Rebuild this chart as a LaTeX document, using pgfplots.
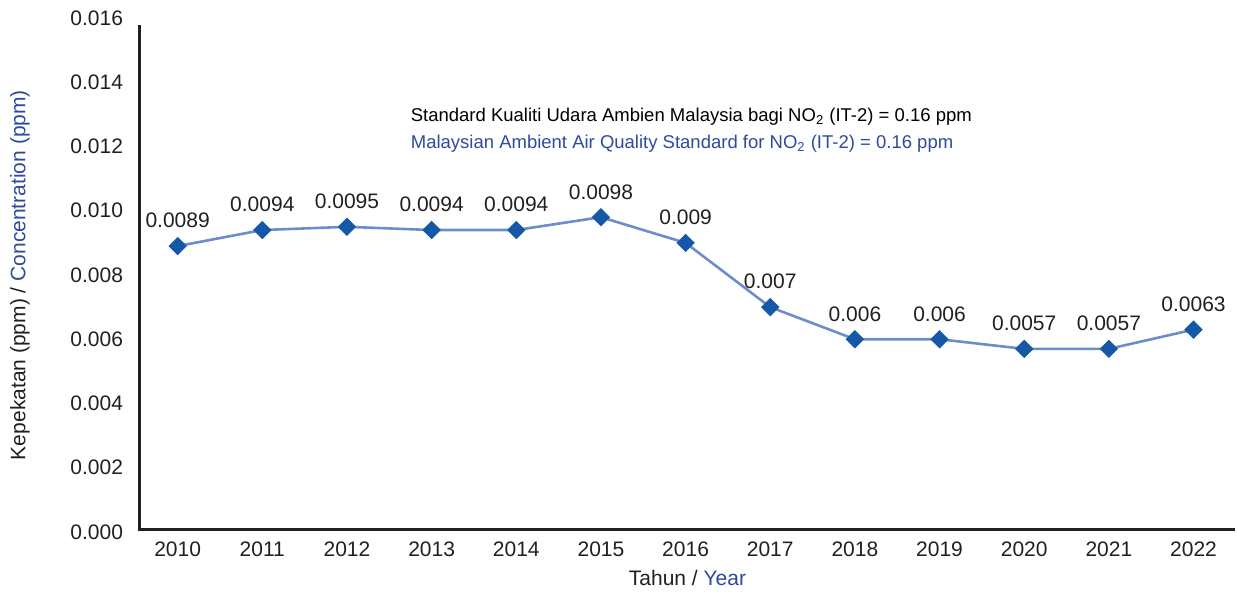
\documentclass[border=0pt]{standalone}
\usepackage{fontspec}
\setmainfont{Liberation Sans}
\usepackage{pgfplots}
\pgfplotsset{compat=1.18}
\definecolor{axisgray}{HTML}{231F20}
\definecolor{txtblue}{HTML}{2E4A9E}
\definecolor{lineblue}{HTML}{6E8CCB}
\definecolor{markblue}{HTML}{1558A8}
\newcommand{\fs}{\fontsize{10.5bp}{12.6bp}\selectfont}
\begin{document}
\begin{tikzpicture}
\begin{axis}[
  scale only axis,
  width=547.5bp, height=257bp,
  xmin=-0.445, xmax=12.49,
  ymin=0, ymax=0.016,
  axis x line*=bottom, axis y line*=left,
  axis line style={draw=none, -},
  xtick={0,...,12},
  xticklabels={2010,2011,2012,2013,2014,2015,2016,2017,2018,2019,2020,2021,2022},
  ytick={0,0.002,...,0.016},
  major tick length=0pt,
  scaled y ticks=false,
  yticklabel style={/pgf/number format/fixed, /pgf/number format/fixed zerofill, /pgf/number format/precision=3, /pgf/number format/assume math mode=true, xshift=-5bp},
  tick label style={font=\fs, text=axisgray},
  xticklabel style={yshift=-1.5bp},
  every axis y label/.style={at={(rel axis cs:0,0.5)}, xshift=-60bp, rotate=90, anchor=center, font=\fs},
  every axis x label/.style={at={(rel axis cs:0.5,0)}, yshift=-23bp, anchor=center, font=\fs},
  xlabel={\textcolor{axisgray}{Tahun /} \textcolor{txtblue}{Year}},
  ylabel={\textcolor{axisgray}{Kepekatan (ppm) /} \textcolor{txtblue}{Concentration (ppm)}},
  clip=false,
  nodes near coords,
  point meta=explicit symbolic,
  every node near coord/.append style={font=\fs, text=axisgray, yshift=5bp},
]
\draw[axisgray, line width=1.5bp, line join=miter] (rel axis cs:0,0.9864) -- (rel axis cs:0,0.00584) -- (rel axis cs:1,0.00584);
\addplot[color=lineblue, line width=1.3bp, mark=square*, mark size=2.6bp,
  mark options={fill=markblue, draw=markblue, rotate=45}]
  table[meta=lab] {
x y lab
0 0.0089 0.0089
1 0.0094 0.0094
2 0.0095 0.0095
3 0.0094 0.0094
4 0.0094 0.0094
5 0.0098 0.0098
6 0.0090 0.009
7 0.0070 0.007
8 0.0060 0.006
9 0.0060 0.006
10 0.0057 0.0057
11 0.0057 0.0057
12 0.0063 0.0063
};
\node[anchor=west, font=\fontsize{9.25bp}{11bp}\selectfont, text=black, inner sep=0pt] at (axis cs:2.75,0.01292) {Standard Kualiti Udara Ambien Malaysia bagi NO\textsubscript{2} (IT-2) = 0.16 ppm};
\node[anchor=west, font=\fontsize{9.25bp}{11bp}\selectfont, text=txtblue, inner sep=0pt] at (axis cs:2.75,0.01208) {Malaysian Ambient Air Quality Standard for NO\textsubscript{2} (IT-2) = 0.16 ppm};
\path (rel axis cs:0,0) ++(-70bp,-30bp) coordinate (bbsw);
\end{axis}
\useasboundingbox (bbsw) rectangle ++(619bp,296bp);
\end{tikzpicture}
\end{document}
